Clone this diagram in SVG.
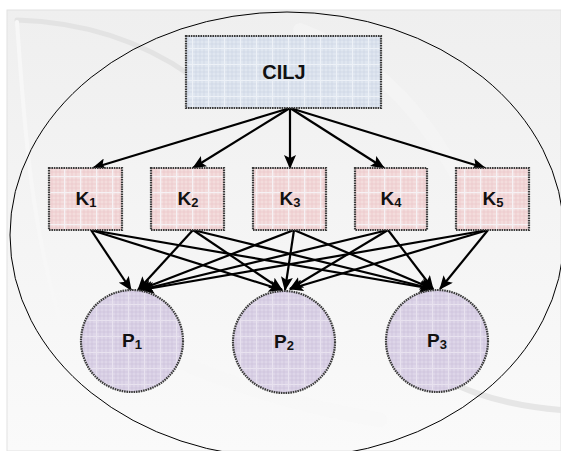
<svg xmlns="http://www.w3.org/2000/svg" width="561" height="451" viewBox="0 0 561 451">
  <defs>
    <linearGradient id="panelFill" x1="0" y1="0" x2="0" y2="1">
      <stop offset="0" stop-color="#efefef"/>
      <stop offset="1" stop-color="#fafafa"/>
    </linearGradient>
    <pattern id="gridBlue" width="16" height="16" patternUnits="userSpaceOnUse">
      <rect width="16" height="16" fill="#dfe6f0"/>
      <path d="M4 0V16M8 0V16M12 0V16M0 4H16M0 8H16M0 12H16" stroke="#c9d3e2" stroke-width="0.6"/>
      <path d="M0.5 0V16M0 0.5H16" stroke="#edf1f7" stroke-width="1.2"/>
    </pattern>
    <pattern id="gridPink" width="16" height="16" patternUnits="userSpaceOnUse">
      <rect width="16" height="16" fill="#f3dcdc"/>
      <path d="M4 0V16M8 0V16M12 0V16M0 4H16M0 8H16M0 12H16" stroke="#e9c2c4" stroke-width="0.6"/>
      <path d="M0.5 0V16M0 0.5H16" stroke="#f6f1f4" stroke-width="1.6"/>
    </pattern>
    <pattern id="gridLilac" width="16" height="16" patternUnits="userSpaceOnUse">
      <rect width="16" height="16" fill="#ddd5e8"/>
      <path d="M4 0V16M8 0V16M12 0V16M0 4H16M0 8H16M0 12H16" stroke="#c7bbd8" stroke-width="0.6"/>
      <path d="M0.5 0V16M0 0.5H16" stroke="#e8e2ef" stroke-width="1.2"/>
    </pattern>
    <marker id="arrow" markerUnits="userSpaceOnUse" markerWidth="14" markerHeight="12" viewBox="0 0 14 12" refX="13" refY="6" orient="auto">
      <path d="M0 0L14 6L0 12L3 6Z" fill="#000"/>
    </marker>
  </defs>
  <style>
    .lbl { font-family: "Liberation Sans", Arial, sans-serif; font-weight: bold; fill: #111; text-anchor: middle; }
    .edge { stroke: #000; stroke-width: 2.2; fill: none; marker-end: url(#arrow); }
    .frame { stroke: #3a3a3a; stroke-width: 2.2; stroke-dasharray: 1.6 0.8; }
    .band { fill: none; stroke-linecap: round; }
  </style>

  <!-- backdrop -->
  <rect width="561" height="451" fill="#ffffff"/>
  <rect x="7" y="10" width="554" height="441" fill="url(#panelFill)" stroke="#e2e2e2" stroke-width="1"/>
  <g id="backdrop-bands">
    <path class="band" d="M17 20 C 80 22, 140 40, 190 75" stroke="#e3e3e3" stroke-width="5"/>
    <path class="band" d="M17 22 C 24 120, 30 220, 60 320" stroke="#f7f7f7" stroke-width="4"/>
    <path class="band" d="M400 350 C 450 390, 500 405, 561 410" stroke="#e6e6e6" stroke-width="6"/>
    <path class="band" d="M300 30 C 380 60, 430 120, 470 200" stroke="#f5f5f5" stroke-width="14" opacity="0.7"/>
    <path class="band" d="M60 300 C 160 360, 260 400, 380 420" stroke="#f7f7f7" stroke-width="14" opacity="0.6"/>
  </g>

  <!-- enclosing boundary -->
  <ellipse id="boundary" cx="287" cy="235" rx="277" ry="223" fill="none" stroke="#000" stroke-width="1"/>

  <!-- connectors -->
  <g id="connectors">
    <line class="edge" x1="290" y1="108" x2="93" y2="168"/>
    <line class="edge" x1="290" y1="108" x2="193" y2="168"/>
    <line class="edge" x1="290" y1="108" x2="290" y2="168"/>
    <line class="edge" x1="290" y1="108" x2="384" y2="168"/>
    <line class="edge" x1="290" y1="108" x2="485" y2="168"/>

    <line class="edge" x1="91" y1="230" x2="131" y2="290"/>
    <line class="edge" x1="91" y1="230" x2="282" y2="290"/>
    <line class="edge" x1="91" y1="230" x2="433" y2="289"/>

    <line class="edge" x1="193" y1="230" x2="138" y2="290"/>
    <line class="edge" x1="193" y1="230" x2="282" y2="290"/>
    <line class="edge" x1="193" y1="230" x2="433" y2="289"/>

    <line class="edge" x1="294" y1="230" x2="139" y2="290"/>
    <line class="edge" x1="294" y1="230" x2="285" y2="290"/>
    <line class="edge" x1="294" y1="230" x2="433" y2="289"/>

    <line class="edge" x1="388" y1="230" x2="140" y2="290"/>
    <line class="edge" x1="388" y1="230" x2="290" y2="289"/>
    <line class="edge" x1="388" y1="230" x2="433" y2="289"/>

    <line class="edge" x1="488" y1="230" x2="141" y2="290"/>
    <line class="edge" x1="488" y1="230" x2="290" y2="289"/>
    <line class="edge" x1="488" y1="230" x2="440" y2="289"/>
  </g>

  <!-- top node -->
  <g id="cilj">
    <rect class="frame" x="186" y="36" width="195" height="72" fill="url(#gridBlue)"/>
    <text class="lbl" x="284" y="79" font-size="20">CILJ</text>
  </g>

  <!-- middle row -->
  <g id="k1">
    <rect class="frame" x="49" y="168" width="73" height="62" fill="url(#gridPink)"/>
    <text class="lbl" x="86" y="205" font-size="19">K<tspan font-size="13" dy="2">1</tspan></text>
  </g>
  <g id="k2">
    <rect class="frame" x="151" y="168" width="73" height="62" fill="url(#gridPink)"/>
    <text class="lbl" x="188" y="205" font-size="19">K<tspan font-size="13" dy="2">2</tspan></text>
  </g>
  <g id="k3">
    <rect class="frame" x="253" y="168" width="73" height="62" fill="url(#gridPink)"/>
    <text class="lbl" x="290" y="205" font-size="19">K<tspan font-size="13" dy="2">3</tspan></text>
  </g>
  <g id="k4">
    <rect class="frame" x="355" y="168" width="72" height="62" fill="url(#gridPink)"/>
    <text class="lbl" x="391" y="205" font-size="19">K<tspan font-size="13" dy="2">4</tspan></text>
  </g>
  <g id="k5">
    <rect class="frame" x="456" y="168" width="73" height="62" fill="url(#gridPink)"/>
    <text class="lbl" x="493" y="205" font-size="19">K<tspan font-size="13" dy="2">5</tspan></text>
  </g>

  <!-- bottom row -->
  <g id="p1">
    <circle class="frame" cx="132" cy="341" r="51" fill="url(#gridLilac)"/>
    <text class="lbl" x="132" y="347" font-size="19">P<tspan font-size="13" dy="2">1</tspan></text>
  </g>
  <g id="p2">
    <circle class="frame" cx="284" cy="342" r="51" fill="url(#gridLilac)"/>
    <text class="lbl" x="284" y="348" font-size="19">P<tspan font-size="13" dy="2">2</tspan></text>
  </g>
  <g id="p3">
    <circle class="frame" cx="437" cy="341" r="51" fill="url(#gridLilac)"/>
    <text class="lbl" x="437" y="347" font-size="19">P<tspan font-size="13" dy="2">3</tspan></text>
  </g>
</svg>
